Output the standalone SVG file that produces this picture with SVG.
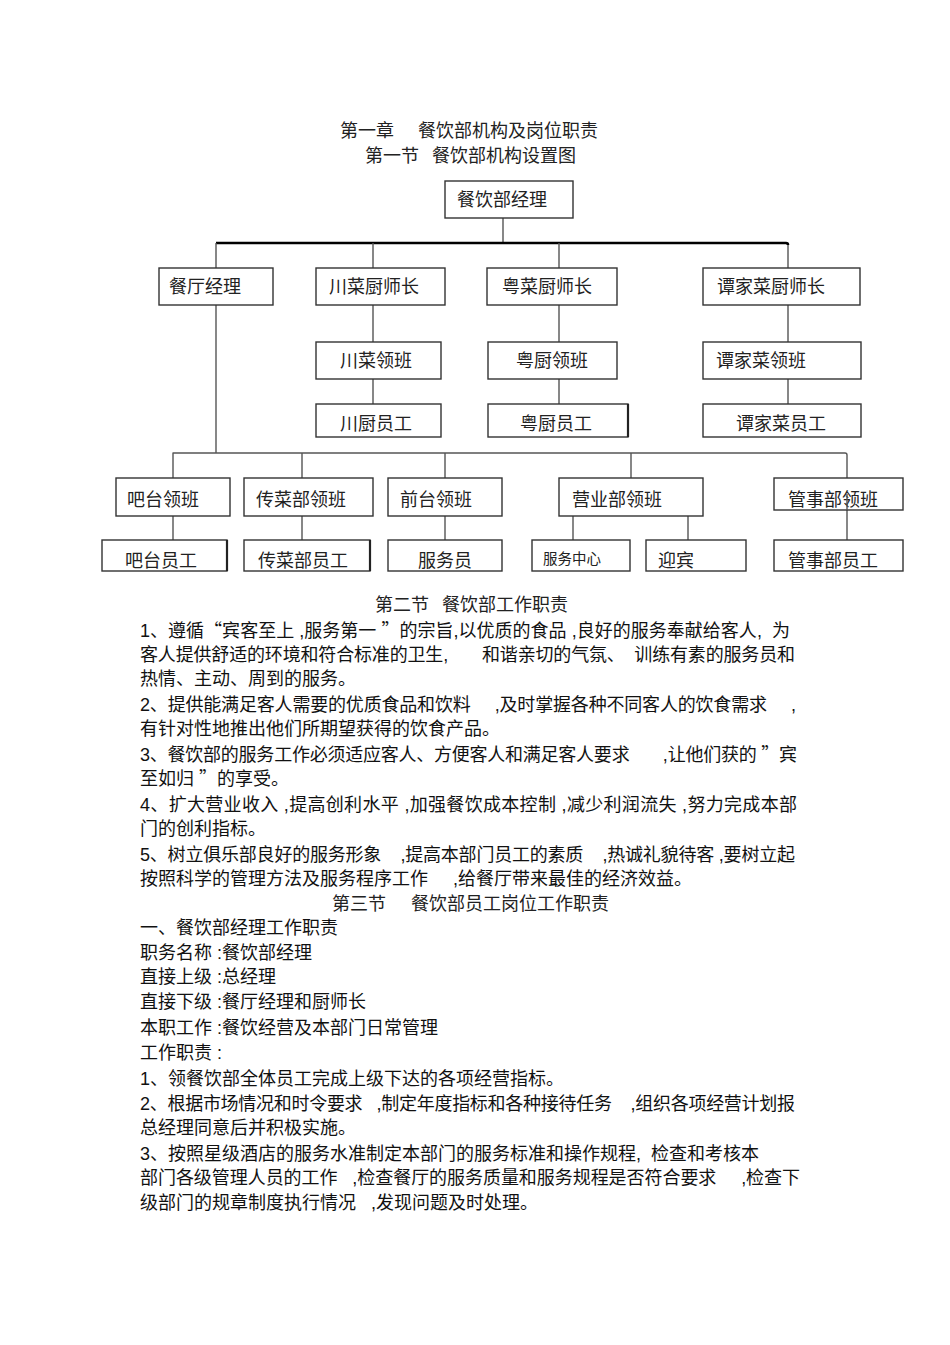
<svg xmlns="http://www.w3.org/2000/svg" width="950" height="1345" viewBox="0 0 950 1345" xml:space="preserve">
<style>
text{font-family:"Liberation Sans","Noto Sans CJK SC",sans-serif;font-size:18px;fill:#111;white-space:pre;}
.t{font-family:"Noto Sans CJK SC","Liberation Sans",sans-serif;fill:#222;}
.sm{font-size:14.5px;}
.q{font-family:"Noto Sans CJK SC",sans-serif;}
.box{fill:#fff;stroke:#333;stroke-width:1.4;}
.edge{stroke:#222;stroke-width:2.2;}
.ln{fill:none;stroke:#555;stroke-width:1.4;stroke-linejoin:round;}
.thick{fill:none;stroke:#000;stroke-width:2.6;stroke-linejoin:round;}
</style>
<rect width="950" height="1345" fill="#fff"/>
<g id="titles">
<text class="t" x="340" y="137">第一章</text><text class="t" x="418" y="137">餐饮部机构及岗位职责</text>
<text class="t" x="365" y="162">第一节</text><text class="t" x="432" y="162">餐饮部机构设置图</text>
</g>
<g id="connectors">
<path class="ln" d="M503 218V243"/>
<path class="thick" d="M216 243H786Q788 243 788 245"/>
<path class="ln" d="M216 243V268M373 243V268M559 243V268M788 245V268"/>
<path class="ln" d="M373 305V342M373 379V404M559 305V342M559 379V404M788 305V342M788 379V404"/>
<path class="ln" d="M216 305V453"/>
<path class="ln" d="M173 478V453H845Q847 453 847 455V478"/>
<path class="ln" d="M302 453V478M445 453V478M631 453V478"/>
<path class="ln" d="M173 516V540M302 516V540M445 516V540M573 516V540M688 516V540M847 510V540"/>
</g>
<g id="n-mgr"><rect class="box" x="445" y="181" width="128" height="37"/><text class="t" x="457" y="206">餐饮部经理</text></g>
<g id="n-ctjl"><rect class="box" x="159" y="268" width="114" height="37"/><text class="t" x="169" y="293">餐厅经理</text></g>
<g id="n-ccc"><rect class="box" x="316" y="268" width="129" height="37"/><text class="t" x="329" y="293">川菜厨师长</text></g>
<g id="n-ycc"><rect class="box" x="487" y="268" width="130" height="37"/><text class="t" x="502" y="293">粤菜厨师长</text></g>
<g id="n-tcc"><rect class="box" x="703" y="268" width="157" height="37"/><text class="t" x="717" y="293">谭家菜厨师长</text></g>
<g id="n-clb"><rect class="box" x="316" y="342" width="125" height="37"/><text class="t" x="340" y="367">川菜领班</text></g>
<g id="n-ylb"><rect class="box" x="488" y="342" width="129" height="37"/><text class="t" x="516" y="367">粤厨领班</text></g>
<g id="n-tlb"><rect class="box" x="703" y="342" width="158" height="37"/><text class="t" x="716" y="367">谭家菜领班</text></g>
<g id="n-cyg"><rect class="box" x="316" y="404" width="125" height="33"/><text class="t" x="340" y="430">川厨员工</text></g>
<g id="n-yyg"><rect class="box" x="488" y="404" width="140" height="33"/><line class="edge" x1="628" y1="404" x2="628" y2="437"/><text class="t" x="520" y="430">粤厨员工</text></g>
<g id="n-tyg"><rect class="box" x="703" y="404" width="158" height="33"/><text class="t" x="736" y="430">谭家菜员工</text></g>
<g id="n-btlb"><rect class="box" x="116" y="478" width="114" height="38"/><text class="t" x="127" y="506">吧台领班</text></g>
<g id="n-cclb"><rect class="box" x="244" y="478" width="129" height="38"/><text class="t" x="256" y="506">传菜部领班</text></g>
<g id="n-qtlb"><rect class="box" x="388" y="478" width="114" height="38"/><text class="t" x="400" y="506">前台领班</text></g>
<g id="n-yylb"><rect class="box" x="559" y="478" width="144" height="38"/><text class="t" x="572" y="506">营业部领班</text></g>
<g id="n-gslb"><rect class="box" x="774" y="478" width="129" height="32"/><text class="t" x="788" y="506">管事部领班</text><path class="ln" d="M847 494V510"/></g>
<g id="n-btyg"><rect class="box" x="102" y="540" width="125" height="31"/><line class="edge" x1="227" y1="540" x2="227" y2="571"/><text class="t" x="125" y="567">吧台员工</text></g>
<g id="n-ccyg"><rect class="box" x="244" y="540" width="126" height="31"/><line class="edge" x1="370" y1="540" x2="370" y2="571"/><text class="t" x="258" y="567">传菜部员工</text></g>
<g id="n-fwy"><rect class="box" x="388" y="540" width="114" height="31"/><text class="t" x="418" y="567">服务员</text></g>
<g id="n-fwzx"><rect class="box" x="532" y="540" width="98" height="31"/><text class="t sm" x="543" y="564">服务中心</text></g>
<g id="n-yb"><rect class="box" x="646" y="540" width="100" height="31"/><text class="t" x="658" y="567">迎宾</text></g>
<g id="n-gsyg"><rect class="box" x="774" y="540" width="129" height="31"/><text class="t" x="788" y="567">管事部员工</text></g>
<g id="body">
<text class="t" x="375" y="611">第二节</text><text class="t" x="442" y="611">餐饮部工作职责</text>
<text x="140" y="637" textLength="650" lengthAdjust="spacing">1、遵循<tspan class="q">“</tspan>宾客至上 ,服务第一 <tspan class="q">”</tspan>的宗旨,以优质的食品 ,良好的服务奉献给客人,  为</text>
<text x="140" y="661" textLength="655" lengthAdjust="spacing">客人提供舒适的环境和符合标准的卫生,       和谐亲切的气氛、  训练有素的服务员和</text>
<text x="140" y="685">热情、主动、周到的服务。</text>
<text x="140" y="711" textLength="656" lengthAdjust="spacing">2、提供能满足客人需要的优质食品和饮料     ,及时掌握各种不同客人的饮食需求     ,</text>
<text x="140" y="735">有针对性地推出他们所期望获得的饮食产品。</text>
<text x="140" y="761" textLength="657" lengthAdjust="spacing">3、餐饮部的服务工作必须适应客人、方便客人和满足客人要求       ,让他们获的 <tspan class="q">”</tspan>宾</text>
<text x="140" y="785">至如归 <tspan class="q">”</tspan>的享受。</text>
<text x="140" y="811" textLength="657" lengthAdjust="spacing">4、扩大营业收入 ,提高创利水平 ,加强餐饮成本控制 ,减少利润流失 ,努力完成本部</text>
<text x="140" y="835">门的创利指标。</text>
<text x="140" y="861" textLength="655" lengthAdjust="spacing">5、树立俱乐部良好的服务形象    ,提高本部门员工的素质    ,热诚礼貌待客 ,要树立起</text>
<text x="140" y="885">按照科学的管理方法及服务程序工作     ,给餐厅带来最佳的经济效益。</text>
<text class="t" x="332" y="910">第三节</text><text class="t" x="411" y="910">餐饮部员工岗位工作职责</text>
<text x="140" y="934">一、餐饮部经理工作职责</text>
<text x="140" y="959">职务名称 :餐饮部经理</text>
<text x="140" y="983">直接上级 :总经理</text>
<text x="140" y="1008">直接下级 :餐厅经理和厨师长</text>
<text x="140" y="1034">本职工作 :餐饮经营及本部门日常管理</text>
<text x="140" y="1059">工作职责 :</text>
<text x="140" y="1085">1、领餐饮部全体员工完成上级下达的各项经营指标。</text>
<text x="140" y="1110" textLength="655" lengthAdjust="spacing">2、根据市场情况和时令要求   ,制定年度指标和各种接待任务    ,组织各项经营计划报</text>
<text x="140" y="1134">总经理同意后并积极实施。</text>
<text x="140" y="1160">3、按照星级酒店的服务水准制定本部门的服务标准和操作规程,  检查和考核本</text>
<text x="140" y="1184" textLength="660" lengthAdjust="spacing">部门各级管理人员的工作   ,检查餐厅的服务质量和服务规程是否符合要求     ,检查下</text>
<text x="140" y="1209">级部门的规章制度执行情况   ,发现问题及时处理。</text>
</g>
</svg>
